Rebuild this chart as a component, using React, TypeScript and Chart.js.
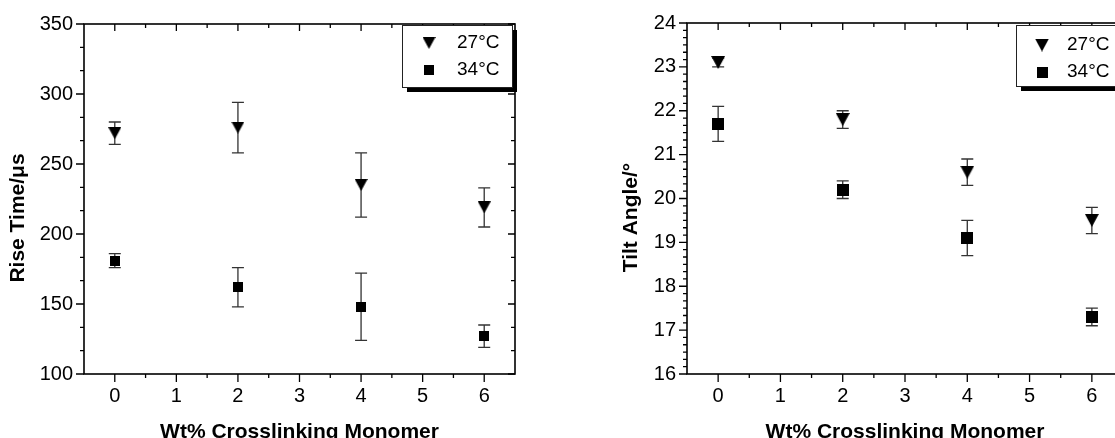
import React, { useEffect, useRef } from 'react';
import { Chart, registerables } from 'chart.js';

Chart.register(...registerables);

// ---------- data ----------
const crosslinkerWt = [0, 2, 4, 6];
const seriesLabels = ['27°C', '34°C'];

const riseTime27 = [272, 276, 235, 219];
const riseTime27Err = [8, 18, 23, 14];
const riseTime34 = [181, 162, 148, 127];
const riseTime34Err = [5, 14, 24, 8];

const tiltAngle27 = [23.1, 21.8, 20.6, 19.5];
const tiltAngle27Err = [0.1, 0.2, 0.3, 0.3];
const tiltAngle34 = [21.7, 20.2, 19.1, 17.3];
const tiltAngle34Err = [0.4, 0.2, 0.4, 0.2];

const xTickValues = [0, 1, 2, 3, 4, 5, 6];
const riseTimeTicks = [100, 150, 200, 250, 300, 350];
const tiltAngleTicks = [16, 17, 18, 19, 20, 21, 22, 23, 24];

const xTitle = 'Wt% Crosslinking Monomer';
const riseTimeTitle = 'Rise Time/\u03bcs';
const tiltAngleTitle = 'Tilt Angle/°';

// ---------- styling ----------
const FONT = "'Liberation Sans', Arial, Helvetica, sans-serif";
const CANVAS_H = 460;

function triangleImg(w: number, h: number) {
  const c = document.createElement('canvas');
  c.width = w;
  c.height = h;
  const g = c.getContext('2d')!;
  g.fillStyle = '#000';
  g.beginPath();
  g.moveTo(0, 0);
  g.lineTo(w, 0);
  g.lineTo(w / 2, h);
  g.closePath();
  g.fill();
  return c;
}
function squareImg(s: number) {
  const c = document.createElement('canvas');
  c.width = s;
  c.height = s;
  const g = c.getContext('2d')!;
  g.fillStyle = '#000';
  g.fillRect(0, 0, s, s);
  return c;
}

type Cfg = {
  left: number;
  width: number;
  padTop: number;
  padRight: number;
  yAxisWidth: number;
  xAxisHeight: number;
  yMin: number;
  yMax: number;
  yTicks: number[];
  yMinorCount: number;
  yTitle: string;
  yTitleX: number;
  s27: number[];
  e27: number[];
  s34: number[];
  e34: number[];
  tri: [number, number];
  sq: number;
  legTri: [number, number];
  legSq: number;
  legend: { fromRight: number; dy: number; w: number; h: number; mx: number; tx: number; r1: number; r2: number };
};

const leftCfg: Cfg = {
  left: 0,
  width: 557,
  padTop: 24,
  padRight: 42,
  yAxisWidth: 84,
  xAxisHeight: 86,
  yMin: 100,
  yMax: 350,
  yTicks: riseTimeTicks,
  yMinorCount: 2,
  yTitle: riseTimeTitle,
  yTitleX: 18,
  s27: riseTime27,
  e27: riseTime27Err,
  s34: riseTime34,
  e34: riseTime34Err,
  tri: [13, 12],
  sq: 10,
  legTri: [13, 12],
  legSq: 10,
  legend: { fromRight: 113, dy: 1, w: 110, h: 62, mx: 27, tx: 55, r1: 18, r2: 45 },
};

const rightCfg: Cfg = {
  left: 557,
  width: 600,
  padTop: 20,
  padRight: 34,
  yAxisWidth: 130,
  xAxisHeight: 86,
  yMin: 16,
  yMax: 24,
  yTicks: tiltAngleTicks,
  yMinorCount: 5,
  yTitle: tiltAngleTitle,
  yTitleX: 74,
  s27: tiltAngle27,
  e27: tiltAngle27Err,
  s34: tiltAngle34,
  e34: tiltAngle34Err,
  tri: [14, 13],
  sq: 12,
  legTri: [14, 13],
  legSq: 11,
  legend: { fromRight: 107, dy: 2, w: 110, h: 61, mx: 26, tx: 51, r1: 20, r2: 47 },
};

function minorValues(majors: number[], count: number) {
  const out: number[] = [];
  for (let i = 0; i < majors.length - 1; i++) {
    const step = (majors[i + 1] - majors[i]) / (count + 1);
    for (let k = 1; k <= count; k++) out.push(majors[i] + step * k);
  }
  return out;
}

function makePlugin(cfg: Cfg, legTriI: HTMLCanvasElement, legSqI: HTMLCanvasElement) {
  return {
    id: 'origin-style',
    beforeDatasetsDraw(chart: any) {
      const { ctx, scales } = chart;
      const xs = scales.x;
      const ys = scales.y;
      ctx.save();
      ctx.strokeStyle = '#333';
      ctx.lineWidth = 1.3;
      const drawErr = (vals: number[], errs: number[]) => {
        vals.forEach((v, i) => {
          const px = xs.getPixelForValue(crosslinkerWt[i]);
          const top = ys.getPixelForValue(v + errs[i]);
          const bot = ys.getPixelForValue(v - errs[i]);
          ctx.beginPath();
          ctx.moveTo(px, top);
          ctx.lineTo(px, bot);
          ctx.moveTo(px - 6, top);
          ctx.lineTo(px + 6, top);
          ctx.moveTo(px - 6, bot);
          ctx.lineTo(px + 6, bot);
          ctx.stroke();
        });
      };
      drawErr(cfg.s27, cfg.e27);
      drawErr(cfg.s34, cfg.e34);
      ctx.restore();
    },
    afterDraw(chart: any) {
      const { ctx, chartArea: a, scales } = chart;
      const xs = scales.x;
      const ys = scales.y;
      ctx.save();
      ctx.strokeStyle = '#000';
      ctx.lineWidth = 1.6;
      ctx.strokeRect(a.left, a.top, a.right - a.left, a.bottom - a.top);
      ctx.lineWidth = 1.3;
      ctx.beginPath();
      xTickValues.forEach((v) => {
        const p = xs.getPixelForValue(v);
        ctx.moveTo(p, a.bottom);
        ctx.lineTo(p, a.bottom + 8);
        ctx.moveTo(p, a.top);
        ctx.lineTo(p, a.top + 7);
      });
      minorValues(xTickValues, 1).forEach((v) => {
        const p = xs.getPixelForValue(v);
        ctx.moveTo(p, a.bottom);
        ctx.lineTo(p, a.bottom + 4);
        ctx.moveTo(p, a.top);
        ctx.lineTo(p, a.top + 4);
      });
      cfg.yTicks.forEach((v) => {
        const p = ys.getPixelForValue(v);
        ctx.moveTo(a.left - 8, p);
        ctx.lineTo(a.left, p);
        ctx.moveTo(a.right, p);
        ctx.lineTo(a.right - 7, p);
      });
      minorValues(cfg.yTicks, cfg.yMinorCount).forEach((v) => {
        const p = ys.getPixelForValue(v);
        ctx.moveTo(a.left - 4, p);
        ctx.lineTo(a.left, p);
        ctx.moveTo(a.right, p);
        ctx.lineTo(a.right - 4, p);
      });
      ctx.stroke();

      ctx.fillStyle = '#000';
      ctx.font = `bold 21px ${FONT}`;
      ctx.textAlign = 'center';
      ctx.textBaseline = 'alphabetic';
      ctx.fillText(xTitle, (a.left + a.right) / 2, 438);
      ctx.save();
      ctx.translate(cfg.yTitleX, (a.top + a.bottom) / 2 + 19);
      ctx.rotate(-Math.PI / 2);
      ctx.textBaseline = 'middle';
      ctx.fillText(cfg.yTitle, 0, 0);
      ctx.restore();

      const L = cfg.legend;
      const bx = a.right - L.fromRight;
      const by = a.top + L.dy;
      ctx.fillStyle = '#000';
      ctx.fillRect(bx + 5, by + 5, L.w, L.h);
      ctx.fillStyle = '#fff';
      ctx.fillRect(bx, by, L.w, L.h);
      ctx.strokeStyle = '#222';
      ctx.lineWidth = 1;
      ctx.strokeRect(bx + 0.5, by + 0.5, L.w, L.h);
      ctx.drawImage(legTriI, bx + L.mx - legTriI.width / 2, by + L.r1 - legTriI.height / 2);
      ctx.drawImage(legSqI, bx + L.mx - legSqI.width / 2, by + L.r2 - legSqI.height / 2);
      ctx.fillStyle = '#000';
      ctx.font = `19px ${FONT}`;
      ctx.textAlign = 'left';
      ctx.textBaseline = 'middle';
      ctx.fillText(seriesLabels[0], bx + L.tx, by + L.r1);
      ctx.fillText(seriesLabels[1], bx + L.tx, by + L.r2);
      ctx.restore();
    },
  };
}

function ErrorChart({ cfg }: { cfg: Cfg }) {
  const ref = useRef<HTMLCanvasElement>(null);
  useEffect(() => {
    const triI = triangleImg(cfg.tri[0], cfg.tri[1]);
    const sqI = squareImg(cfg.sq);
    const legTriI = triangleImg(cfg.legTri[0], cfg.legTri[1]);
    const legSqI = squareImg(cfg.legSq);
    const tickFont = { family: FONT, size: 20 };
    const chart = new Chart(ref.current!, {
      type: 'scatter',
      data: {
        datasets: [
          {
            label: seriesLabels[0],
            data: crosslinkerWt.map((x, i) => ({ x, y: cfg.s27[i] })),
            pointStyle: triI as any,
            pointRadius: 6,
            showLine: false,
          },
          {
            label: seriesLabels[1],
            data: crosslinkerWt.map((x, i) => ({ x, y: cfg.s34[i] })),
            pointStyle: sqI as any,
            pointRadius: 6,
            showLine: false,
          },
        ],
      },
      options: {
        animation: false,
        responsive: false,
        devicePixelRatio: 1,
        layout: { padding: { left: 0, top: cfg.padTop, right: cfg.padRight, bottom: 0 } },
        plugins: { legend: { display: false }, tooltip: { enabled: false }, title: { display: false } },
        scales: {
          x: {
            type: 'linear',
            min: -0.5,
            max: 6.5,
            afterBuildTicks: (s: any) => {
              s.ticks = xTickValues.map((v) => ({ value: v }));
            },
            afterFit: (s: any) => {
              s.height = cfg.xAxisHeight;
            },
            grid: { display: false, drawTicks: false },
            border: { display: false },
            ticks: { font: tickFont, color: '#000', padding: 10, maxRotation: 0, autoSkip: false },
          },
          y: {
            type: 'linear',
            min: cfg.yMin,
            max: cfg.yMax,
            afterBuildTicks: (s: any) => {
              s.ticks = cfg.yTicks.map((v) => ({ value: v }));
            },
            afterFit: (s: any) => {
              s.width = cfg.yAxisWidth;
            },
            grid: { display: false, drawTicks: false },
            border: { display: false },
            ticks: { font: tickFont, color: '#000', padding: 11, autoSkip: false },
          },
        },
      } as any,
      plugins: [makePlugin(cfg, legTriI, legSqI)],
    });
    return () => chart.destroy();
  }, [cfg]);
  return (
    <canvas
      ref={ref}
      width={cfg.width}
      height={CANVAS_H}
      style={{ position: 'absolute', left: cfg.left, top: 0, width: cfg.width, height: CANVAS_H }}
    />
  );
}

export default function App() {
  return (
    <div
      style={{
        position: 'fixed',
        left: 0,
        top: 0,
        width: 1115,
        height: 438,
        overflow: 'hidden',
        background: '#fff',
      }}
    >
      <ErrorChart cfg={leftCfg} />
      <ErrorChart cfg={rightCfg} />
    </div>
  );
}
